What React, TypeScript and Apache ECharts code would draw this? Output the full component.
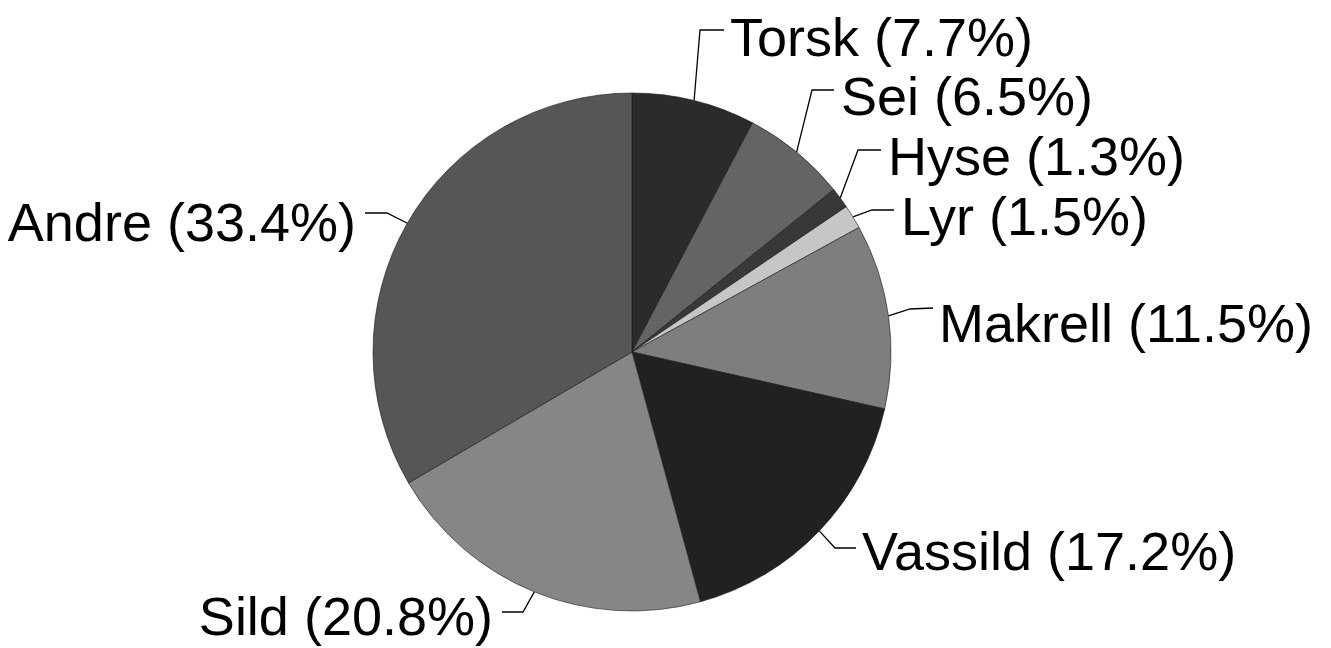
import React, { useEffect, useRef } from "react";
import * as echarts from "echarts";

const categories = ["Torsk", "Sei", "Hyse", "Lyr", "Makrell", "Vassild", "Sild", "Andre"];
const shares = [7.7, 6.5, 1.3, 1.5, 11.5, 17.2, 20.8, 33.4];
const sliceColors = ["#2b2b2b", "#646464", "#383838", "#c6c6c6", "#7e7e7e", "#212121", "#868686", "#565656"];

// label placement (text anchor and leader-line elbow/end), layout only
const labelAnchor = [
  { x: 730, y: 37, align: "left", elbow: [700, 30], end: [724, 30] },
  { x: 841, y: 96, align: "left", elbow: [812, 90], end: [834, 90] },
  { x: 888, y: 156, align: "left", elbow: [858, 150], end: [881, 150] },
  { x: 901, y: 216, align: "left", elbow: [872, 210], end: [894, 210] },
  { x: 939, y: 323, align: "left", elbow: [910, 309], end: [933, 308] },
  { x: 862, y: 551, align: "left", elbow: [835, 548], end: [856, 548] },
  { x: 493, y: 616, align: "right", elbow: [523, 612], end: [502, 612] },
  { x: 356, y: 222, align: "right", elbow: [387, 213], end: [365, 213] },
];

export default function App() {
  const ref = useRef<HTMLDivElement>(null);
  useEffect(() => {
    if (!ref.current) return;
    const chart = echarts.init(ref.current, null, { renderer: "svg" });
    chart.setOption({
      animation: false,
      backgroundColor: "#ffffff",
      series: [
        {
          type: "pie",
          center: [632, 352],
          radius: 259,
          startAngle: 90,
          clockwise: true,
          avoidLabelOverlap: false,
          data: categories.map((name, i) => ({
            name,
            value: shares[i],
            itemStyle: { color: sliceColors[i] },
          })),
          itemStyle: { borderColor: "#1a1a1a", borderWidth: 0.6 },
          label: {
            show: true,
            position: "outside",
            formatter: (p: any) => `${p.name} (${Number(p.value).toFixed(1)}%)`,
            fontFamily: "Liberation Sans, Arial, sans-serif",
            fontSize: 54,
            color: "#000",
          },
          labelLine: {
            show: true,
            smooth: false,
            length: 20,
            length2: 20,
            lineStyle: { color: "#000", width: 1.3 },
          },
          labelLayout: (params: any) => {
            const a = labelAnchor[params.dataIndex];
            const edge = params.labelLinePoints ? params.labelLinePoints[0] : a.elbow;
            return {
              x: a.x,
              y: a.y,
              align: a.align,
              verticalAlign: "middle",
              labelLinePoints: [edge, a.elbow, a.end],
            };
          },
          emphasis: { disabled: true },
        },
      ],
    });
    return () => chart.dispose();
  }, []);
  return (
    <div
      ref={ref}
      style={{ position: "fixed", left: 0, top: 0, width: 1331, height: 648, background: "#fff" }}
    />
  );
}
